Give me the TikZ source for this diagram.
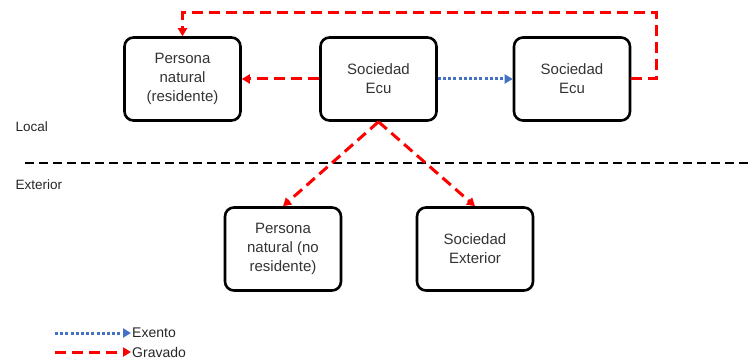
\documentclass[tikz,border=0pt]{standalone}
\usepackage{fontspec}
\setmainfont{Liberation Sans}
\usetikzlibrary{arrows.meta}
\definecolor{gravred}{HTML}{FF0000}
\definecolor{exblue}{HTML}{4472C4}
\begin{document}
\begin{tikzpicture}[x=1pt,y=-1pt,
  entity/.style={draw=black, line width=2.6pt, rounded corners=9pt, minimum width=116pt,
    minimum height=83pt, align=center, inner sep=2pt, text=black!80,
    font=\fontsize{15}{19}\selectfont},
  gravado/.style={draw=gravred, line width=3pt, dash pattern=on 11pt off 6pt,
    -{Triangle[length=8pt,width=9pt]}},
  exento/.style={draw=exblue, line width=3pt, dash pattern=on 3pt off 2.2pt,
    -{Triangle[length=8pt,width=9pt]}},
  zone/.style={anchor=west, text=black!85, font=\fontsize{13.5}{16}\selectfont},
  legendtext/.style={anchor=west, inner sep=1pt, text=black!85, font=\fontsize{14}{16}\selectfont}]
\useasboundingbox (0,0) rectangle (749,363);

% entities
\node[entity] (pnr) at (182.5,79) {Persona\\natural\\(residente)};
\node[entity] (ecu) at (378.5,79) {Sociedad\\Ecu};
\node[entity] (ecu2) at (572,79) {Sociedad\\Ecu};
\node[entity] (pnnr) at (283,249) {Persona\\natural (no\\residente)};
\node[entity] (ext) at (475,249) {Sociedad\\Exterior};

% zone labels and frontier
\node[zone] (local) at (12,127) {Local};
\node[zone] (exterior) at (12,185) {Exterior};
\coordinate (f1) at (25,163);
\coordinate (f2) at (749,163);
\draw[line width=2.8pt, dash pattern=on 9pt off 5pt] (f1) -- (f2);

% flows
\draw[exento] (ecu.east) -- (ecu2.west);
\draw[gravado] (ecu.west) -- (pnr.east);
\draw[gravado] (ecu2.east) -- ++(25,0) |- ([xshift=0pt]pnr.north |- 0,13) -- (pnr.north);
\draw[gravado] (ecu.south) -- (pnnr.north);
\draw[gravado] (ecu.south) -- (ext.north);

% legend
\coordinate (l1) at (55,333);
\coordinate (l2) at (55,352);
\node[legendtext] (lex) at (131,333) {Exento};
\node[legendtext] (lgr) at (131,352) {Gravado};
\draw[exento] (l1) -- (lex.west);
\draw[gravado] (l2) -- (lgr.west);
\end{tikzpicture}
\end{document}
